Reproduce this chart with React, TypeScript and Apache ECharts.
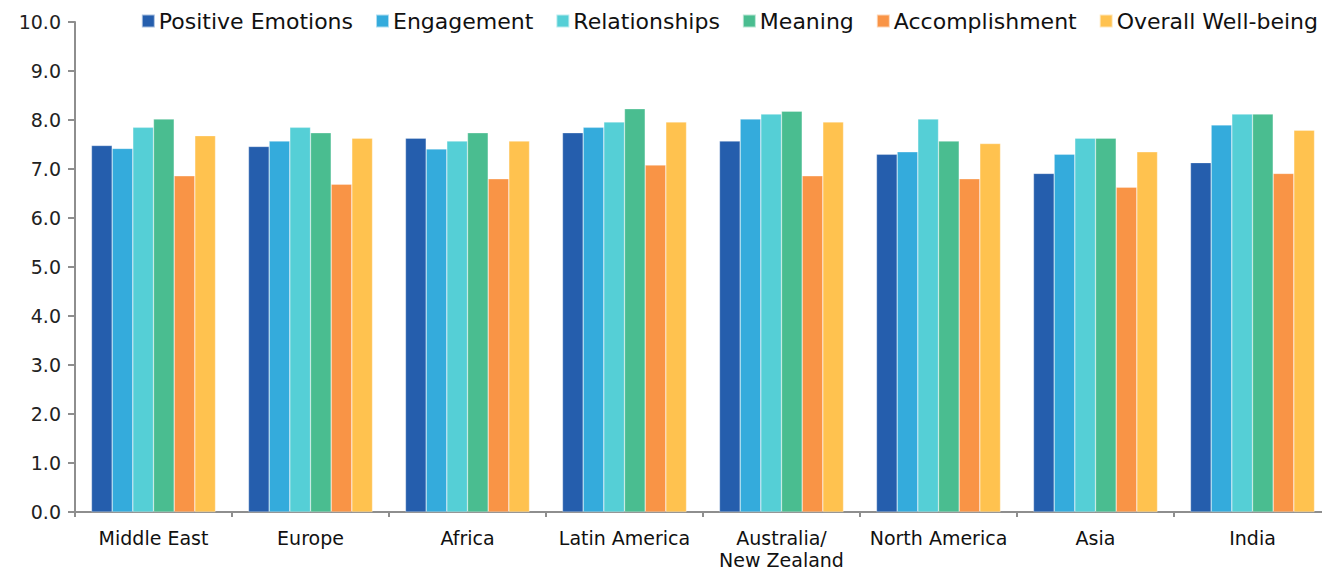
import React, { useEffect, useRef } from "react";
import * as echarts from "echarts";

const regions = [
  "Middle East",
  "Europe",
  "Africa",
  "Latin America",
  "Australia/\nNew Zealand",
  "North America",
  "Asia",
  "India",
];

const positiveEmotions = [7.48, 7.46, 7.63, 7.74, 7.57, 7.3, 6.91, 7.13];
const engagement = [7.42, 7.57, 7.41, 7.85, 8.02, 7.35, 7.3, 7.9];
const relationships = [7.85, 7.85, 7.57, 7.96, 8.12, 8.02, 7.63, 8.12];
const meaning = [8.02, 7.74, 7.74, 8.23, 8.18, 7.57, 7.63, 8.12];
const accomplishment = [6.86, 6.69, 6.8, 7.08, 6.86, 6.8, 6.63, 6.91];
const overallWellbeing = [7.68, 7.63, 7.57, 7.96, 7.96, 7.52, 7.35, 7.79];

const seriesDefs = [
  { name: "Positive Emotions", data: positiveEmotions, color: "#255EAD" },
  { name: "Engagement", data: engagement, color: "#34ABDC" },
  { name: "Relationships", data: relationships, color: "#55CFD6" },
  { name: "Meaning", data: meaning, color: "#4ABD90" },
  { name: "Accomplishment", data: accomplishment, color: "#F99446" },
  { name: "Overall Well-being", data: overallWellbeing, color: "#FFC24F" },
];

const FONT = "'DejaVu Sans', sans-serif";
const AXIS_GREY = "#8e8e8e";

export default function App() {
  const ref = useRef<HTMLDivElement>(null);

  useEffect(() => {
    if (!ref.current) return;
    const chart = echarts.init(ref.current, undefined, { renderer: "svg" });
    chart.setOption({
      animation: false,
      backgroundColor: "#ffffff",
      textStyle: { fontFamily: FONT },
      legend: {
        right: 17,
        top: 5,
        itemWidth: 13,
        itemHeight: 13,
        itemGap: 22,
        icon: "rect",
        textStyle: { fontSize: 22, color: "#111", fontFamily: FONT, padding: [0, 0, 0, -1] },
        data: seriesDefs.map((s) => s.name),
      },
      grid: { left: 75, right: 9, top: 22, bottom: 59, outerBoundsMode: "none" },
      xAxis: {
        type: "category",
        data: regions,
        axisLine: { lineStyle: { color: AXIS_GREY, width: 2 } },
        axisTick: { show: true, length: 5, lineStyle: { color: AXIS_GREY, width: 2 } },
        axisLabel: {
          interval: 0,
          fontSize: 19,
          color: "#111",
          fontFamily: FONT,
          margin: 15,
          lineHeight: 22,
        },
      },
      yAxis: {
        type: "value",
        min: 0,
        max: 10,
        interval: 1,
        splitLine: { show: false },
        axisLine: { show: true, lineStyle: { color: AXIS_GREY, width: 2 } },
        axisTick: { show: true, length: 7, lineStyle: { color: AXIS_GREY, width: 2 } },
        axisLabel: {
          fontSize: 19,
          color: "#222",
          fontFamily: FONT,
          margin: 14,
          formatter: (v: number) => v.toFixed(1),
        },
      },
      series: seriesDefs.map((s) => ({
        name: s.name,
        type: "bar",
        data: s.data,
        barGap: "0%",
        barCategoryGap: "21%",
        itemStyle: { color: s.color, borderColor: "rgba(255,255,255,0.6)", borderWidth: 0.5 },
      })),
    });
    return () => chart.dispose();
  }, []);

  return (
    <div style={{ position: "absolute", left: 0, top: 0, width: 1322, height: 571, overflow: "hidden" }}>
      <div ref={ref} style={{ width: 1340, height: 571 }} />
    </div>
  );
}
